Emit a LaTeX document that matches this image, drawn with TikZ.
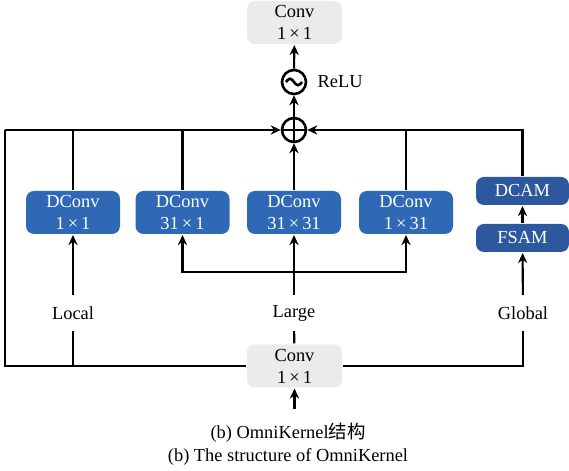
\documentclass[tikz,border=0pt]{standalone}
\usepackage{fontspec}
\setmainfont{Liberation Serif}
\newfontfamily\cjk{Noto Sans CJK SC}
\usetikzlibrary{arrows.meta}
\definecolor{dblue}{RGB}{47,104,181}
\definecolor{mblue}{RGB}{45,88,158}
\definecolor{lgray}{RGB}{235,235,235}

\begin{document}
\begin{tikzpicture}[x=0.5pt,y=0.5pt,
    font=\fontsize{9.2}{11}\selectfont,
    line width=1.05pt, >={Stealth[length=5pt,width=4.6pt]},
    conv/.style={fill=lgray, rounded corners=4pt, minimum width=47.5pt,
      minimum height=21.5pt, align=center, inner sep=0pt},
    dconv/.style={fill=dblue, text=white, rounded corners=4pt, minimum width=47pt,
      minimum height=21.5pt, align=center, inner sep=0pt},
    attn/.style={fill=mblue, text=white, rounded corners=4pt, minimum width=46.5pt,
      minimum height=14pt, inner sep=0pt},
    branch/.style={minimum height=17pt, inner sep=0pt},
    op/.style={draw, line width=1.3pt, circle, minimum size=12pt, inner sep=0pt}]
  \useasboundingbox (0,0) rectangle (569,471);

  % output side
  \node[conv] (out) at (294.5,448.5) {Conv\\1\,×\,1};
  \node[op] (relu) at (294,389) {};
  \draw[line width=1.3pt] ([xshift=-4pt]relu.center) sin ++(2pt,1.6pt) cos ++(2pt,-1.6pt)
    sin ++(2pt,-1.6pt) cos ++(2pt,1.6pt);
  \node[anchor=west] (relulab) at (310,389) {ReLU};
  \node[op] (sum) at (294,341) {};
  \draw[line width=1.3pt] (sum.north) -- (sum.south) (sum.west) -- (sum.east);

  % three branches
  \node[dconv] (d1) at (73,258.5) {DConv\\1\,×\,1};
  \node[dconv] (d2) at (182.5,258.5) {DConv\\31\,×\,1};
  \node[dconv] (d3) at (294,258.5) {DConv\\31\,×\,31};
  \node[dconv] (d4) at (406,258.5) {DConv\\1\,×\,31};
  \node[attn] (dcam) at (522.5,280) {DCAM};
  \node[attn] (fsam) at (522.5,233) {FSAM};

  \node[branch] (local) at (73,158) {Local};
  \node[branch] (large) at (294,158) {Large};
  \node[branch] (global) at (523,158) {Global};

  % input side
  \node[conv] (in) at (294.5,105) {Conv\\1\,×\,1};
  \coordinate (x) at (294.5,62);
  \coordinate (tl) at (5,341);
  \coordinate (split) at (294,199);

  \node (cap1) at (288,38) {(b) OmniKernel{\cjk 结构}};
  \node (cap2) at (288,14) {(b) The structure of OmniKernel};

  % connections
  \draw[->] (x) -- (in);
  \draw (in.west) -| (tl);
  \draw[->] (tl) -- (sum.west);
  \draw (in.east) -| (global);
  \draw (local.south) -- (local |- in);
  \draw (large) -- (in);
  \draw[->] (local) -- (d1);
  \draw[->] (large) -- (d3);
  \draw[->] (split) -| (d2);
  \draw[->] (split) -| (d4);
  \draw[->] (global) -- (fsam);
  \draw[->] (fsam) -- (dcam);
  \draw (d1) -- (d1 |- sum);
  \draw (d2) -- (d2 |- sum);
  \draw (d4) -- (d4 |- sum);
  \draw[->] (dcam) |- (sum.east);
  \draw[->] (d3) -- (sum);
  \draw[->] (sum) -- (relu);
  \draw[->] (relu) -- (out);
\end{tikzpicture}
\end{document}
